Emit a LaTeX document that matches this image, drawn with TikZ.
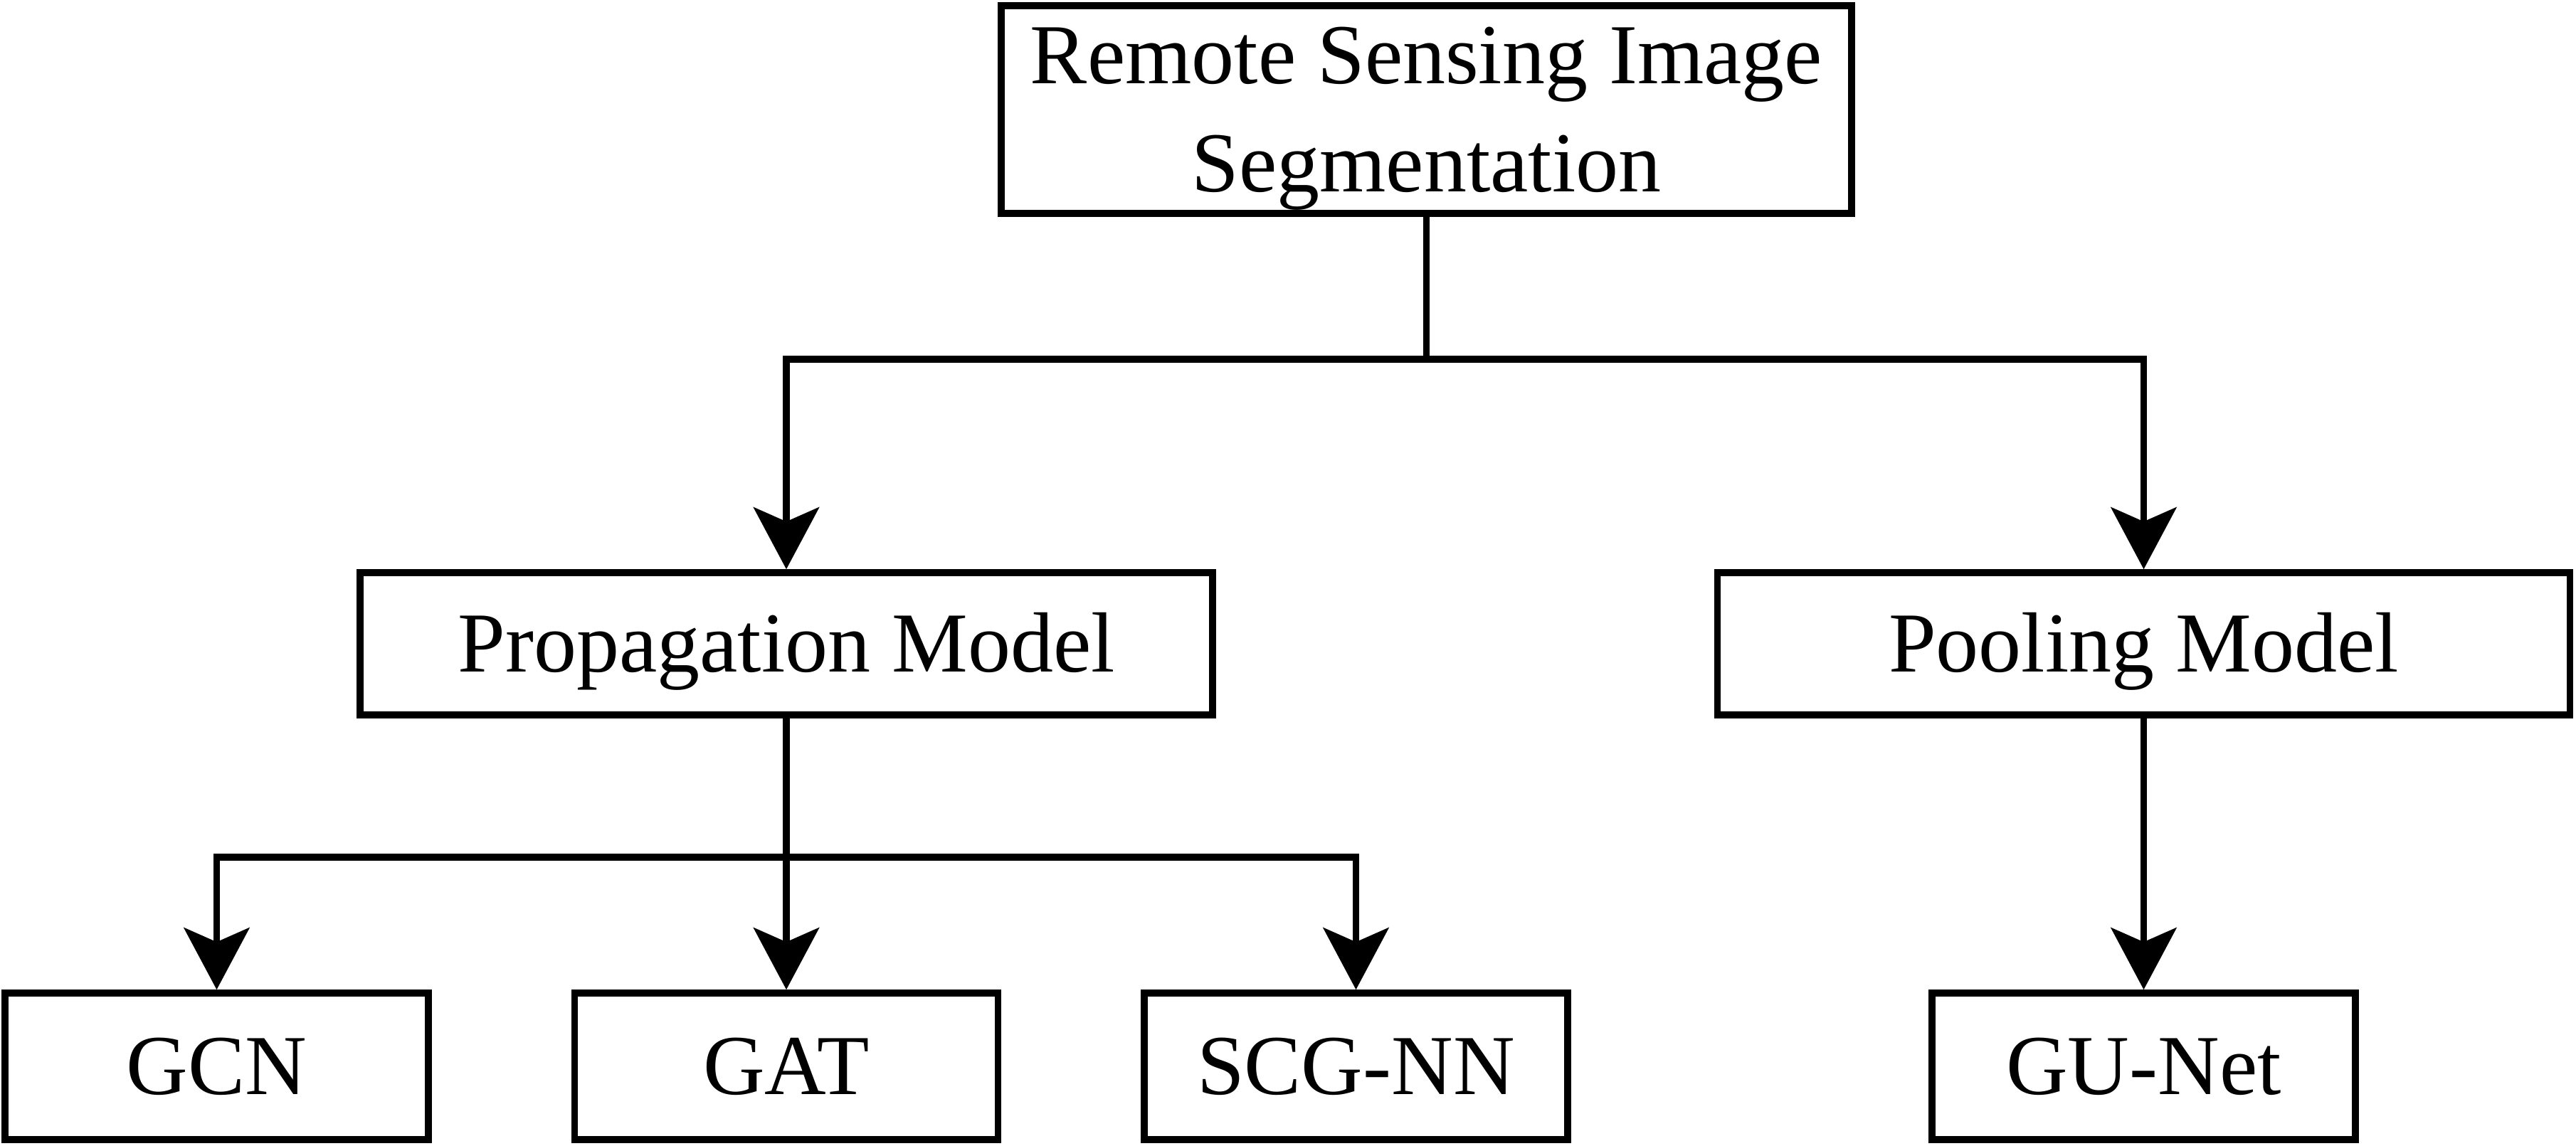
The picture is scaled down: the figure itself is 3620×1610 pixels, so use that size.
\documentclass[tikz,border=0pt]{standalone}
\usepackage{fontspec}
\setmainfont{Liberation Serif}
\usetikzlibrary{arrows.meta}
\begin{document}
\begin{tikzpicture}[x=0.25pt,y=-0.25pt,
  box/.style={draw=black, line width=2.4pt, inner sep=0pt, align=center,
    font=\fontsize{30pt}{38pt}\selectfont, text height=19.5pt, text depth=0pt},
  bigbox/.style={box, minimum width=298.75pt, minimum height=73pt, text height=57.5pt, text depth=0pt},
  midbox/.style={box, minimum width=299.5pt, minimum height=50pt},
  leafbox/.style={box, minimum width=148.75pt, minimum height=51.5pt},
  conn/.style={draw=black, line width=2.4pt},
  arr/.style={conn, -{Stealth[length=21.75pt,width=23pt,inset=5pt]}}]
\useasboundingbox (0,0) rectangle (3620,1610);
\node[bigbox] (top) at (2004.5,154) {Remote Sensing Image\\Segmentation};
\node[midbox] (prop) at (1105,905) {Propagation Model};
\node[midbox] (pool) at (3012.5,905) {Pooling Model};
\node[leafbox] (gcn) at (304.5,1499) {GCN};
\node[leafbox] (gat) at (1105,1499) {GAT};
\node[leafbox] (scg) at (1905.5,1499) {SCG-NN};
\node[leafbox] (gun) at (3012.5,1499) {GU-Net};
\coordinate (j1) at (2004.5,505);
\coordinate (j2) at (1105,1205);
\draw[conn] (top.south) -- (j1);
\draw[arr] (j1) -| (prop.north);
\draw[arr] (j1) -| (pool.north);
\draw[arr] (prop.south) -- (gat.north);
\draw[arr] (j2) -| (gcn.north);
\draw[arr] (j2) -| (scg.north);
\draw[arr] (pool.south) -- (gun.north);
\end{tikzpicture}
\end{document}
